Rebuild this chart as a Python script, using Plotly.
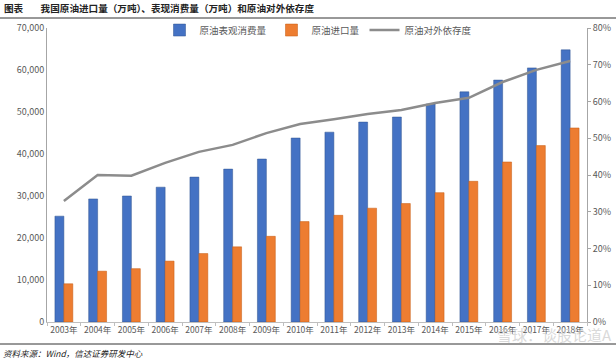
import plotly.graph_objects as go

years = [f"{y}年" for y in range(2003, 2019)]
consumption = [25200, 29300, 30000, 32100, 34500, 36400, 38800, 43800, 45200, 47600,
               48800, 51900, 54800, 57600, 60500, 64800]
imports = [9100, 12100, 12700, 14500, 16300, 17900, 20400, 23900, 25400, 27100,
           28200, 30800, 33500, 38100, 42000, 46200]
dependence = [32.9, 40.0, 39.8, 43.3, 46.3, 48.2, 51.4, 53.9, 55.2, 56.6,
              57.7, 59.6, 61.0, 65.3, 68.6, 71.0]

left_ticks = [0, 10000, 20000, 30000, 40000, 50000, 60000, 70000]
right_ticks = [0, 0.1, 0.2, 0.3, 0.4, 0.5, 0.6, 0.7, 0.8]

font_cn = "Noto Sans CJK SC"
L, R, T, B = 47, 29, 28, 40
PW = 616 - L - R
PH = 362 - T - B

fig = go.Figure()
fig.add_trace(go.Bar(x=years, y=consumption, name="原油表观消费量",
                     marker=dict(color="#4472C4", line=dict(color="#2F528F", width=0.5))))
fig.add_trace(go.Bar(x=years, y=imports, name="原油进口量",
                     marker=dict(color="#ED7D31", line=dict(color="#C55A11", width=0.5))))
fig.add_trace(go.Scatter(x=years, y=[d / 100 for d in dependence], name="原油对外依存度",
                         mode="lines", line=dict(color="#8C8C8C", width=2.5), yaxis="y2"))

fig.update_layout(
    width=616, height=362,
    margin=dict(l=L, r=R, t=T, b=B, autoexpand=False),
    paper_bgcolor="white", plot_bgcolor="white",
    font=dict(family=font_cn, size=10, color="#595959"),
    barmode="group", bargap=0.47, bargroupgap=0.0,
    showlegend=True,
    legend=dict(orientation="h", x=(318 - L) / PW, xanchor="center", y=0.993, yanchor="middle",
                font=dict(size=9.5, color="#595959"), itemwidth=30,
                bgcolor="rgba(0,0,0,0)"),
    xaxis=dict(type="category", showgrid=False, showline=True, linecolor="#BFBFBF",
               linewidth=1, ticks="outside", ticklen=3, tickcolor="#BFBFBF",
               tickson="boundaries", tickangle=0,
               tickfont=dict(size=8.5, color="#595959")),
    yaxis=dict(range=[0, 70000], tickvals=left_ticks, tickformat=",d",
               showgrid=False, showline=True, linecolor="#A6A6A6", linewidth=1,
               zeroline=False, ticks="", tickfont=dict(size=9, color="#595959")),
    yaxis2=dict(range=[0, 0.8], tickvals=right_ticks, tickformat=".0%",
                overlaying="y", side="right", showgrid=False, showline=True,
                linecolor="#A6A6A6", linewidth=1, ticks="outside", ticklen=3,
                tickcolor="#A6A6A6", zeroline=False,
                tickfont=dict(size=9, color="#595959")),
)

# Header and footer
fig.add_annotation(xref="paper", yref="paper", x=-(L - 2) / PW, y=1 + (T - 8) / PH,
                   xanchor="left", yanchor="middle", showarrow=False,
                   text="<b>图表        我国原油进口量（万吨）、表现消费量（万吨）和原油对外依存度</b>",
                   font=dict(size=9.6, color="#222222", family=font_cn))
fig.add_shape(type="line", xref="paper", yref="paper",
              x0=-L / PW, x1=1 + R / PW, y0=1 + (T - 18) / PH, y1=1 + (T - 18) / PH,
              line=dict(color="#333333", width=1))
fig.add_shape(type="line", xref="paper", yref="paper",
              x0=-L / PW, x1=1 + R / PW, y0=-(344 - 322) / PH, y1=-(344 - 322) / PH,
              line=dict(color="#333333", width=1))
fig.add_annotation(xref="paper", yref="paper", x=-(L - 1) / PW, y=-(353 - 322) / PH,
                   xanchor="left", yanchor="middle", showarrow=False,
                   text="<i>资料来源：Wind，信达证券研发中心</i>",
                   font=dict(size=8.5, color="#222222", family=font_cn))
fig.add_annotation(xref="paper", yref="paper", x=1 + (R - 2) / PW, y=-(334 - 322) / PH,
                   xanchor="right", yanchor="middle", showarrow=False,
                   text="雪球：谈股论道A",
                   font=dict(size=15, color="rgba(205,205,205,0.75)", family=font_cn))

fig.write_html(
    "out.html",
    config={"displayModeBar": False},
    post_script=(
        "document.body.style.margin='0';document.body.style.padding='0';"
        "document.body.style.overflow='hidden';"
        "document.documentElement.style.overflow='hidden';"
    ),
)
